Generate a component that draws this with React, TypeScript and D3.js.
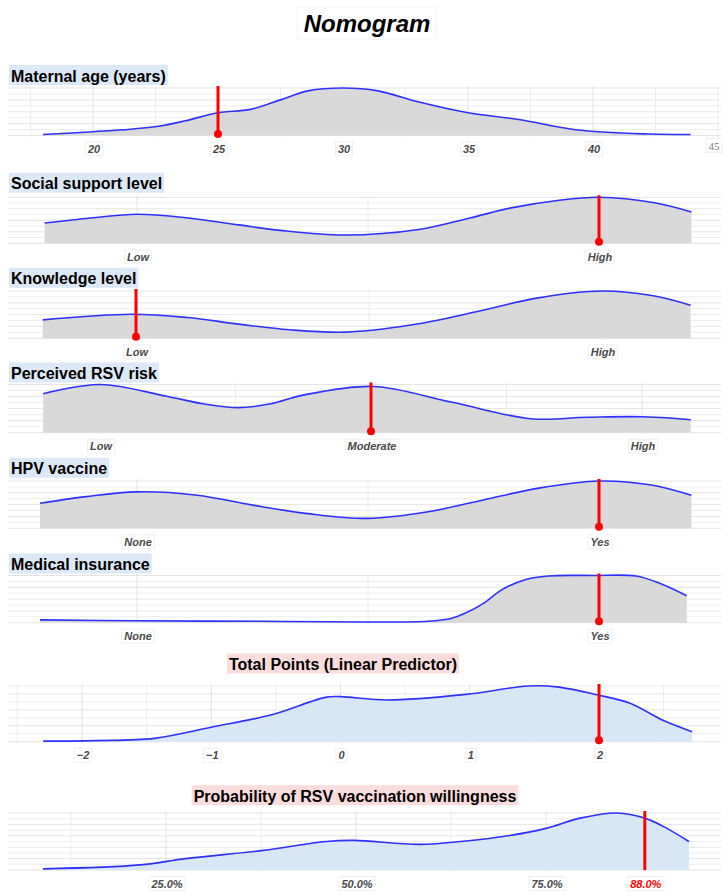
import React from "react";
import * as d3 from "d3";

// ---- Values ----
const ageValues = [18.0, 20.0, 21.5, 22.8, 23.7, 25.0, 26.3, 27.5, 28.6, 30.0, 31.4, 33.0, 34.9, 37.1, 39.3, 42.3, 43.9];
const ageDensity = [0.02, 0.08, 0.13, 0.21, 0.31, 0.48, 0.55, 0.75, 0.94, 1.0, 0.94, 0.71, 0.49, 0.33, 0.12, 0.03, 0.02];
const ageTicks = [20, 25, 30, 35, 40];
const ageEdgeTick = 45;
const ageSelected = 25;

const supportLevels = ["Low", "High"];
const supportValues = [0.8, 0.9, 1.0, 1.11, 1.22, 1.31, 1.45, 1.61, 1.72, 1.81, 1.91, 2.0, 2.12, 2.2];
const supportDensity = [0.44, 0.55, 0.63, 0.55, 0.4, 0.28, 0.18, 0.3, 0.55, 0.77, 0.93, 1.0, 0.88, 0.68];
const supportSelected = "High";

const knowledgeLevels = ["Low", "High"];
const knowledgeValues = [0.8, 0.99, 1.11, 1.22, 1.33, 1.45, 1.59, 1.73, 1.86, 2.0, 2.11, 2.19];
const knowledgeDensity = [0.39, 0.51, 0.44, 0.3, 0.18, 0.13, 0.28, 0.56, 0.85, 1.0, 0.9, 0.7];
const knowledgeSelected = "Low";

const riskLevels = ["Low", "Moderate", "High"];
const riskValues = [0.79, 1.0, 1.25, 1.38, 1.51, 1.63, 1.75, 2.01, 2.3, 2.59, 2.8, 3.0, 3.18];
const riskDensity = [0.81, 1.0, 0.75, 0.6, 0.52, 0.6, 0.78, 0.96, 0.63, 0.29, 0.32, 0.33, 0.27];
const riskSelected = "Moderate";

const hpvLevels = ["None", "Yes"];
const hpvValues = [0.79, 0.89, 1.0, 1.13, 1.25, 1.37, 1.5, 1.63, 1.75, 1.87, 2.0, 2.11, 2.2];
const hpvDensity = [0.53, 0.67, 0.77, 0.7, 0.49, 0.31, 0.21, 0.35, 0.6, 0.85, 1.0, 0.92, 0.7];
const hpvSelected = "Yes";

const insuranceLevels = ["None", "Yes"];
const insuranceValues = [0.79, 1.0, 1.27, 1.5, 1.63, 1.68, 1.71, 1.75, 1.79, 1.84, 1.89, 1.99, 2.08, 2.13, 2.19];
const insuranceDensity = [0.06, 0.04, 0.03, 0.015, 0.03, 0.09, 0.2, 0.41, 0.7, 0.91, 0.99, 1.0, 0.99, 0.84, 0.57];
const insuranceSelected = "Yes";

const lpValues = [-2.3, -1.9, -1.44, -1.0, -0.54, -0.11, 0.0, 0.36, 0.97, 1.45, 1.69, 1.99, 2.24, 2.49, 2.72];
const lpDensity = [0.01, 0.02, 0.06, 0.26, 0.48, 0.8, 0.81, 0.75, 0.85, 1.0, 0.98, 0.84, 0.69, 0.39, 0.18];
const lpTicks = [-2, -1, 0, 1, 2];
const lpSelected = 2;

const probValues = [8.8, 21.6, 27.6, 37.5, 46.1, 49.7, 58.4, 64.5, 70.0, 75.0, 79.5, 84.3, 88.0, 90.9, 93.8];
const probDensity = [0.02, 0.09, 0.2, 0.34, 0.5, 0.52, 0.45, 0.51, 0.6, 0.73, 0.91, 1.0, 0.91, 0.73, 0.5];
const probTicks = [25, 50, 75];
const probSelected = 88.0;

// ---- Styling ----
const W = 728;
const H = 896;
const SANS = "'Liberation Sans', Arial, Helvetica, sans-serif";
const SERIF = "'Liberation Serif', 'Times New Roman', serif";
const GREY_FILL = "#d9d9d9";
const BLUE_FILL = "#d8e7f5";
const LINE_BLUE = "#2f2fff";
const MARK_RED = "#ff0000";
const TICK_GREY = "#4a4a4a";
const FACTOR_BG = "#dce8f5";
const OUTCOME_BG = "#fbdcdc";

let ctx: CanvasRenderingContext2D | null = null;
function textWidth(text: string, font: string): number {
  if (!ctx) ctx = document.createElement("canvas").getContext("2d");
  if (!ctx) return text.length * 7;
  ctx.font = font;
  return ctx.measureText(text).width;
}

type Tick = { value: number; label: string; color?: string; serif?: boolean };
type Spec = {
  title: string;
  values: number[];
  density: number[];
  ticks: Tick[];
  grid: number[];
  majorGrid: number[];
  selected: number;
  dot: boolean;
  fill: string;
  outcome: boolean;
};

const catTicks = (levels: string[]): Tick[] => levels.map((l, i) => ({ value: i + 1, label: l }));
const catGrid = (levels: string[]) => d3.range(1, levels.length + 0.01, 0.5);
const catCode = (levels: string[], v: string) => levels.indexOf(v) + 1;
const fmtLp = (v: number) => (v < 0 ? "\u2212" + Math.abs(v) : String(v));
const fmtPct = (v: number) => v.toFixed(1) + "%";

const specs: Spec[] = [
  {
    title: "Maternal age (years)",
    values: ageValues,
    density: ageDensity,
    ticks: [
      ...ageTicks.map((v) => ({ value: v, label: String(v) })),
      { value: ageEdgeTick, label: String(ageEdgeTick), serif: true },
    ],
    grid: d3.range(17.5, 45.01, 2.5),
    majorGrid: ageTicks,
    selected: ageSelected,
    dot: true,
    fill: GREY_FILL,
    outcome: false,
  },
  {
    title: "Social support level",
    values: supportValues,
    density: supportDensity,
    ticks: catTicks(supportLevels),
    grid: catGrid(supportLevels),
    majorGrid: [1, 2],
    selected: catCode(supportLevels, supportSelected),
    dot: true,
    fill: GREY_FILL,
    outcome: false,
  },
  {
    title: "Knowledge level",
    values: knowledgeValues,
    density: knowledgeDensity,
    ticks: catTicks(knowledgeLevels),
    grid: catGrid(knowledgeLevels),
    majorGrid: [1, 2],
    selected: catCode(knowledgeLevels, knowledgeSelected),
    dot: true,
    fill: GREY_FILL,
    outcome: false,
  },
  {
    title: "Perceived RSV risk",
    values: riskValues,
    density: riskDensity,
    ticks: catTicks(riskLevels),
    grid: catGrid(riskLevels),
    majorGrid: [1, 2, 3],
    selected: catCode(riskLevels, riskSelected),
    dot: true,
    fill: GREY_FILL,
    outcome: false,
  },
  {
    title: "HPV vaccine",
    values: hpvValues,
    density: hpvDensity,
    ticks: catTicks(hpvLevels),
    grid: catGrid(hpvLevels),
    majorGrid: [1, 2],
    selected: catCode(hpvLevels, hpvSelected),
    dot: true,
    fill: GREY_FILL,
    outcome: false,
  },
  {
    title: "Medical insurance",
    values: insuranceValues,
    density: insuranceDensity,
    ticks: catTicks(insuranceLevels),
    grid: catGrid(insuranceLevels),
    majorGrid: [1, 2],
    selected: catCode(insuranceLevels, insuranceSelected),
    dot: true,
    fill: GREY_FILL,
    outcome: false,
  },
  {
    title: "Total Points (Linear Predictor)",
    values: lpValues,
    density: lpDensity,
    ticks: lpTicks.map((v) => ({ value: v, label: fmtLp(v) })),
    grid: d3.range(-2.5, 2.51, 0.5),
    majorGrid: lpTicks,
    selected: lpSelected,
    dot: true,
    fill: BLUE_FILL,
    outcome: true,
  },
  {
    title: "Probability of RSV vaccination willingness",
    values: probValues,
    density: probDensity,
    ticks: [
      ...probTicks.map((v) => ({ value: v, label: fmtPct(v) })),
      { value: probSelected, label: fmtPct(probSelected), color: MARK_RED },
    ],
    grid: d3.range(12.5, 87.51, 12.5),
    majorGrid: probTicks,
    selected: probSelected,
    dot: false,
    fill: BLUE_FILL,
    outcome: true,
  },
];

// Panel geometry: title baseline, plotting band and x calibration
type Layout = {
  titleY: number;
  titleX: number;
  top: number;
  bottom: number;
  domain: [number, number];
  range: [number, number];
  rows: number;
};
const layouts: Layout[] = [
  { titleY: 81.5, titleX: 11, top: 88, bottom: 135.5, domain: [20, 40], range: [93, 593], rows: 8 },
  { titleY: 189.3, titleX: 11, top: 197.3, bottom: 243.3, domain: [1, 2], range: [137, 599], rows: 8 },
  { titleY: 284.3, titleX: 11, top: 291, bottom: 338.3, domain: [1, 2], range: [136, 602], rows: 8 },
  { titleY: 379, titleX: 11, top: 384.5, bottom: 432.7, domain: [1, 3], range: [100, 642], rows: 8 },
  { titleY: 474.3, titleX: 11, top: 481, bottom: 528.3, domain: [1, 2], range: [137, 599], rows: 8 },
  { titleY: 570, titleX: 11, top: 575.5, bottom: 622.7, domain: [1, 2], range: [137, 599], rows: 8 },
  { titleY: 670, titleX: 343, top: 686, bottom: 741.7, domain: [-2, 2], range: [82, 599], rows: 7 },
  { titleY: 801.7, titleX: 355, top: 813, bottom: 870, domain: [25, 75], range: [166, 546], rows: 10 },
];

const GRID_LEFT = 8;
const GRID_RIGHT = 721;

function Panel({ spec, layout }: { spec: Spec; layout: Layout }) {
  const x = d3.scaleLinear().domain(layout.domain).range(layout.range);
  const y = d3.scaleLinear().domain([0, 1]).range([layout.bottom, layout.top]);
  const pts: [number, number][] = spec.values.map((v, i) => [v, spec.density[i]]);
  const curve = d3.curveCatmullRom.alpha(0.5);

  const area = d3
    .area<[number, number]>()
    .x((d) => x(d[0]))
    .y0(layout.bottom)
    .y1((d) => y(d[1]))
    .curve(curve);
  const line = d3
    .line<[number, number]>()
    .x((d) => x(d[0]))
    .y((d) => y(d[1]))
    .curve(curve);

  const rows = d3.range(layout.rows + 1).map((i) => i / layout.rows);

  const titleFont = `bold 16px ${SANS}`;
  const tw = textWidth(spec.title, titleFont);
  const titleLeft = spec.outcome ? layout.titleX - tw / 2 : layout.titleX;

  const tickFont = `italic bold 11px ${SANS}`;
  const serifFont = `11px ${SERIF}`;
  const labelCenter = layout.bottom + 13.5;

  const sx = x(spec.selected);

  return (
    <g>
      {/* grid */}
      {rows.map((r, i) => (
        <line
          key={"h" + i}
          x1={GRID_LEFT}
          x2={GRID_RIGHT}
          y1={y(r)}
          y2={y(r)}
          stroke={i % 2 === 0 ? "#e4e4e4" : "#ededed"}
          strokeWidth={1}
        />
      ))}
      {spec.grid.map((g, i) => (
        <line
          key={"v" + i}
          x1={x(g)}
          x2={x(g)}
          y1={layout.top - 2}
          y2={layout.bottom + 1.5}
          stroke={spec.majorGrid.includes(g) ? "#e2e2e2" : "#ececec"}
          strokeWidth={1}
        />
      ))}

      {/* title */}
      <rect
        x={titleLeft - 2}
        y={layout.titleY - 16.5}
        width={tw + 4}
        height={20}
        fill={spec.outcome ? OUTCOME_BG : FACTOR_BG}
      />
      <text
        x={titleLeft}
        y={layout.titleY}
        fontFamily={SANS}
        fontWeight="bold"
        fontSize={16}
        fill="#000"
      >
        {spec.title}
      </text>

      {/* density */}
      <path d={area(pts) || ""} fill={spec.fill} />
      <path d={line(pts) || ""} fill="none" stroke={LINE_BLUE} strokeWidth={1.6} />

      {/* selected value */}
      <line
        x1={sx}
        x2={sx}
        y1={layout.top - 2}
        y2={layout.bottom - (spec.dot ? 1 : 0)}
        stroke={MARK_RED}
        strokeWidth={3}
      />
      {spec.dot && <circle cx={sx} cy={layout.bottom - 1.5} r={4} fill={MARK_RED} />}

      {/* tick labels */}
      {spec.ticks.map((t, i) => {
        const font = t.serif ? serifFont : tickFont;
        const w = textWidth(t.label, font);
        const cx = x(t.value) + (t.serif ? -4 : 1);
        const cy = t.serif ? labelCenter - 3.5 : labelCenter;
        return (
          <g key={"t" + i}>
            <rect
              x={cx - w / 2 - 2.5}
              y={cy - 7}
              width={w + 5}
              height={14}
              fill="#fff"
              stroke="#ececec"
              strokeWidth={0.8}
            />
            <text
              x={cx}
              y={cy + 4}
              textAnchor="middle"
              fontFamily={t.serif ? SERIF : SANS}
              fontStyle={t.serif ? "normal" : "italic"}
              fontWeight={t.serif ? "normal" : "bold"}
              fontSize={11}
              fill={t.color || (t.serif ? "#777" : TICK_GREY)}
            >
              {t.label}
            </text>
          </g>
        );
      })}
    </g>
  );
}

export default function App() {
  const mainTitle = "Nomogram";
  const mainFont = `italic bold 24px ${SANS}`;
  const mw = textWidth(mainTitle, mainFont);
  const mcx = 367;
  return (
    <svg
      width={W}
      height={H}
      viewBox={`0 0 ${W} ${H}`}
      style={{ position: "absolute", left: 0, top: 0, background: "#fff" }}
    >
      <rect x={0} y={0} width={W} height={H} fill="#fff" />
      <rect
        x={mcx - mw / 2 - 6}
        y={7}
        width={mw + 12}
        height={32}
        fill="#fff"
        stroke="#f0f0f0"
        strokeWidth={0.8}
      />
      <text
        x={mcx}
        y={32}
        textAnchor="middle"
        fontFamily={SANS}
        fontStyle="italic"
        fontWeight="bold"
        fontSize={24}
        fill="#000"
      >
        {mainTitle}
      </text>
      {specs.map((s, i) => (
        <Panel key={i} spec={s} layout={layouts[i]} />
      ))}
    </svg>
  );
}
